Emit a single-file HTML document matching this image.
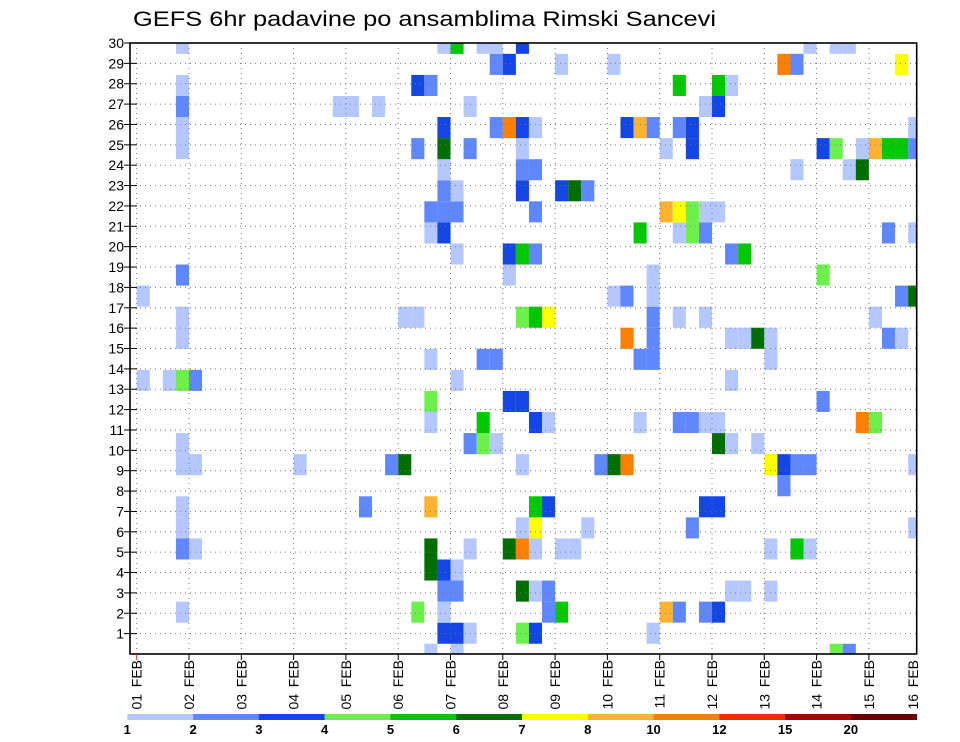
<!DOCTYPE html>
<html><head><meta charset="utf-8"><style>
html,body{margin:0;padding:0;background:#fff;}
svg{display:block;font-family:"Liberation Sans",sans-serif;}
</style></head><body>
<svg id="chart" width="960" height="742" viewBox="0 0 960 742" xmlns="http://www.w3.org/2000/svg">
<text x="133" y="26" font-size="21" textLength="583" lengthAdjust="spacingAndGlyphs" fill="#000">GEFS 6hr padavine po ansamblima Rimski Sancevi</text>
<g id="cells"></g>
<g id="grid"></g>
<g id="axes"></g>
<g id="legend"></g>
</svg>
<script>
// ---- data ----
const dayLabels = ["01 FEB","02 FEB","03 FEB","04 FEB","05 FEB","06 FEB","07 FEB","08 FEB","09 FEB","10 FEB","11 FEB","12 FEB","13 FEB","14 FEB","15 FEB","16 FEB"];
const memberTicks = [1,2,3,4,5,6,7,8,9,10,11,12,13,14,15,16,17,18,19,20,21,22,23,24,25,26,27,28,29,30];
const levels = [1,2,3,4,5,6,7,8,10,12,15,20];
const levelColors = ["#b4c8ff","#5f87ff","#1446e6","#6cf04c","#00c800","#006e00","#ffff00","#ffb22e","#ff8000","#e63200","#aa0000","#6e0000"];
// precipitation (mm) per member (index 0 = bottom), "step:value"
const members = [
"23:1.5 25:1.5 54:4.5 55:2.5",
"24:3.5 25:3.5 26:1.5 30:4.5 31:3.5 40:1.5",
"4:1.5 22:4.5 24:1.5 32:2.5 33:5.5 41:9 42:2.5 44:2.5 45:3.5",
"24:2.5 25:2.5 30:6.5 31:1.5 32:2.5 46:1.5 47:1.5 49:1.5",
"23:6.5 24:3.5 25:1.5",
"4:2.5 5:1.5 23:6.5 26:1.5 29:6.5 30:11 31:1.5 33:1.5 34:1.5 49:1.5 51:5.5 52:1.5",
"4:1.5 30:1.5 31:7.5 35:1.5 43:2.5 60:1.5",
"4:1.5 18:2.5 23:9 31:5.5 32:3.5 44:3.5 45:3.5",
"50:2.5",
"4:1.5 5:1.5 13:1.5 20:2.5 21:6.5 30:1.5 36:2.5 37:6.5 38:11 49:7.5 50:3.5 51:2.5 52:2.5 60:1.5",
"4:1.5 26:2.5 27:4.5 28:1.5 45:6.5 46:1.5 48:1.5",
"23:1.5 27:5.5 31:3.5 32:1.5 39:1.5 42:2.5 43:2.5 44:1.5 45:1.5 56:11 57:4.5",
"23:4.5 29:3.5 30:3.5 53:2.5",
"1:1.5 3:1.5 4:4.5 5:2.5 25:1.5 46:1.5",
"23:1.5 27:2.5 28:2.5 39:2.5 40:2.5 49:1.5",
"4:1.5 38:11 40:2.5 46:1.5 47:1.5 48:6.5 49:1.5 58:2.5 59:1.5",
"4:1.5 21:1.5 22:1.5 30:4.5 31:5.5 32:7.5 40:2.5 42:1.5 44:1.5 57:1.5",
"1:1.5 37:1.5 38:2.5 40:1.5 59:2.5 60:6.5",
"4:2.5 29:1.5 40:1.5 53:4.5",
"25:1.5 29:3.5 30:5.5 31:2.5 46:2.5 47:5.5",
"23:1.5 24:3.5 39:5.5 42:1.5 43:4.5 44:2.5 58:2.5 60:1.5",
"23:2.5 24:2.5 25:2.5 31:2.5 41:9 42:7.5 43:4.5 44:1.5 45:1.5",
"24:2.5 25:1.5 30:3.5 33:3.5 34:6.5 35:2.5",
"24:1.5 30:2.5 31:2.5 51:1.5 55:1.5 56:6.5",
"4:1.5 22:2.5 24:6.5 26:2.5 30:1.5 41:1.5 43:3.5 53:3.5 54:4.5 56:1.5 57:9 58:5.5 59:5.5 60:2.5",
"4:1.5 24:3.5 28:2.5 29:11 30:3.5 31:1.5 38:3.5 39:9 40:2.5 42:2.5 43:3.5 60:1.5",
"4:2.5 16:1.5 17:1.5 19:1.5 26:1.5 44:1.5 45:3.5",
"4:1.5 22:3.5 23:2.5 42:5.5 45:5.5 46:1.5",
"28:2.5 29:3.5 33:1.5 37:1.5 50:11 51:2.5 59:7.5",
"4:1.5 24:1.5 25:5.5 27:1.5 28:1.5 30:3.5 52:1.5 54:1.5 55:1.5"
];

// ---- layout ----
const NS = "http://www.w3.org/2000/svg";
const L = 130, R = 916.7, T = 43, B = 654;
const X0 = 136.7, DAY = 52.3, STEP = DAY / 4;
const yScaleV = v => B - v * (B - T) / 30;
const memberY = j => B + 0.3 - j * (B - T) / 29;
const memberH = (B - T) / 29;
const stepX = k => X0 + (k - 1) * STEP;
function colorFor(v){ let c = null; for (let i = 0; i < levels.length; i++) if (v >= levels[i]) c = levelColors[i]; return c; }
function mk(tag, attrs, parent){ const e = document.createElementNS(NS, tag); for (const a in attrs) e.setAttribute(a, attrs[a]); parent.appendChild(e); return e; }

const gCells = document.getElementById('cells');
members.forEach((s, j) => {
  s.trim().split(/\s+/).forEach(p => {
    const [ks, vs] = p.split(':'); const k = +ks, v = +vs;
    const col = colorFor(v); if (!col) return;
    let x1 = stepX(k), x2 = x1 + STEP;
    let y1 = memberY(j) - memberH / 2, y2 = y1 + memberH;
    x1 = Math.max(x1, L); x2 = Math.min(x2, R); y1 = Math.max(y1, T); y2 = Math.min(y2, B);
    if (x2 <= x1 || y2 <= y1) return;
    const r = mk('rect', {x: x1, y: y1, width: x2 - x1, height: y2 - y1, fill: col}, gCells);
    
    
  });
});

const gGrid = document.getElementById('grid');
memberTicks.forEach(m => {
  if (m >= 30) return;
  const y = yScaleV(m);
  const l = mk('line', {x1: L, x2: R, y1: y, y2: y, stroke: '#777', 'stroke-width': 1, 'stroke-dasharray': '1 4'}, gGrid);
  
  
});
dayLabels.forEach((d, i) => {
  const x = X0 + i * DAY; if (x > R) return;
  const l = mk('line', {x1: x, x2: x, y1: T, y2: B, stroke: '#777', 'stroke-width': 1, 'stroke-dasharray': '1 4'}, gGrid);
  
  
});

const gAx = document.getElementById('axes');
const frame = mk('rect', {x: L, y: T, width: R - L, height: B - T, fill: 'none', stroke: '#000', 'stroke-width': 1.6}, gAx);


memberTicks.forEach(m => {
  const y = yScaleV(m);
  const t = mk('line', {x1: 124, x2: 137, y1: y, y2: y, stroke: '#000', 'stroke-width': 1}, gAx);
  
  
  const tx = mk('text', {x: 124, y: y + 5, 'font-size': 14, 'text-anchor': 'end', fill: '#000'}, gAx);
  tx.textContent = m;
  
  
});
dayLabels.forEach((d, i) => {
  const x = X0 + i * DAY;
  if (x <= R) {
    const t = mk('line', {x1: x, x2: x, y1: B, y2: 660, stroke: i === 0 ? '#c33' : '#000', 'stroke-width': 1}, gAx);
    
    
  }
  const tx = mk('text', {x: 0, y: 0, 'font-size': 14, 'text-anchor': 'end', fill: '#000', transform: `translate(${Math.min(x, 913) + 5},660) rotate(-90)`}, gAx);
  tx.textContent = d.replace(' ', '\u2009 ');
  
  
});

const gLeg = document.getElementById('legend');
const LX = 127.3, LW = (916.7 - 127.3) / levels.length;
levels.forEach((lv, i) => {
  const r = mk('rect', {x: LX + i * LW, y: 714, width: LW + 0.3, height: 6, fill: levelColors[i]}, gLeg);
  
  
  const t = mk('text', {x: LX + i * LW, y: 734, 'font-size': 13, 'text-anchor': 'middle', fill: '#000', 'font-weight': 'bold'}, gLeg);
  t.textContent = lv;
  
  
});
</script>
</body></html>
